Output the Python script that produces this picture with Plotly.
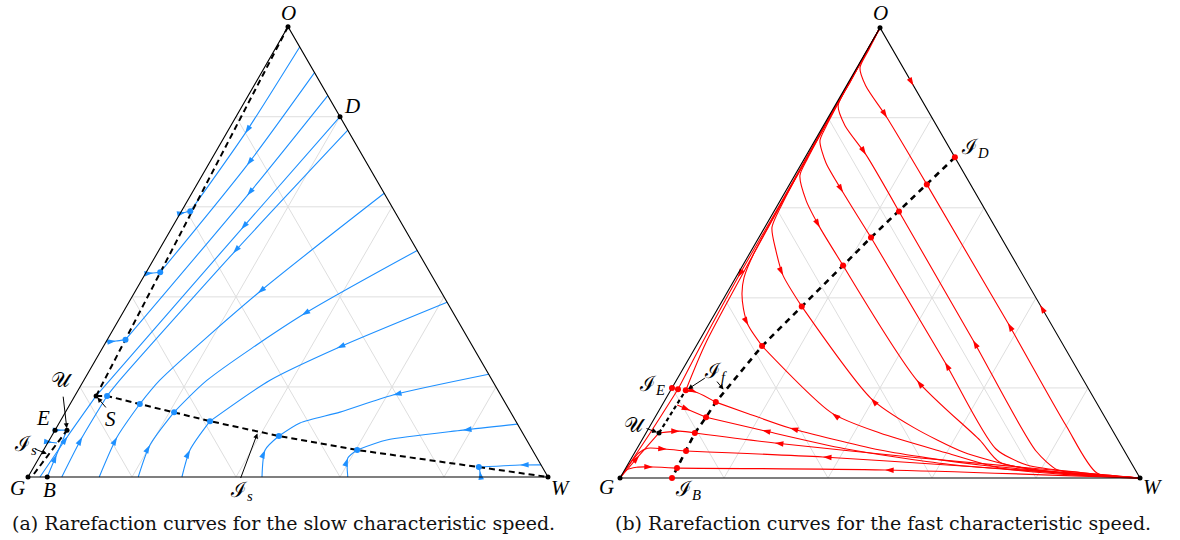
import numpy as np
import plotly.graph_objects as go

H = np.sqrt(3) / 2

# ---------------- data: saturations (sw, so); gas = 1 - sw - so ----------------
# (a) slow family: each branch runs from its start towards the inflection point
slow_branches = [
    [(0.045, 0.955), (0.036, 0.763), (0.017, 0.590)],
    [(0.0, 0.585), (0.009, 0.588), (0.017, 0.590)],
    [(0.102, 0.898), (0.075, 0.692), (0.027, 0.4545)],
    [(0.0, 0.452), (0.014, 0.453), (0.027, 0.4545)],
    [(0.153, 0.847), (0.109, 0.625), (0.035, 0.305)],
    [(0.0, 0.300), (0.018, 0.302), (0.035, 0.305)],
    [(0.2, 0.8), (0.135, 0.55), (0.05, 0.215), (0.041, 0.18)],
    [(0.023, 0.0), (0.031, 0.09), (0.041, 0.18)],
    [(0.23, 0.77), (0.146, 0.4967), (0.069, 0.215), (0.062, 0.18)],
    [(0.065, 0.0), (0.060, 0.0887), (0.062, 0.18)],
    [(0.37, 0.63), (0.238, 0.408), (0.146, 0.215), (0.134, 0.162)],
    [(0.137, 0.0), (0.127, 0.0887), (0.134, 0.162)],
    [(0.497, 0.503), (0.347, 0.359), (0.237, 0.215), (0.209, 0.144)],
    [(0.212, 0.0), (0.199, 0.071), (0.209, 0.144)],
    [(0.612, 0.388), (0.451, 0.286), (0.358, 0.215), (0.288, 0.124)],
    [(0.296, 0.0), (0.2815, 0.06), (0.288, 0.124)],
    [(0.772, 0.228), (0.611, 0.182), (0.528, 0.144), (0.463, 0.12), (0.437, 0.091)],
    [(0.45, 0.0), (0.426, 0.06), (0.437, 0.091)],
    [(0.8825, 0.1175), (0.7845, 0.104), (0.649, 0.082), (0.603, 0.06)],
    [(0.615, 0.0), (0.594, 0.042), (0.603, 0.06)],
    [(0.973, 0.027), (0.933, 0.0266), (0.856, 0.022)],
    [(0.87, 0.0), (0.8625, 0.013), (0.856, 0.022)],
    [(0.0, 0.104), (0.012, 0.104), (0.023, 0.104)],
    [(0.0, 0.0776), (0.009, 0.0765), (0.018, 0.0754)],
    [(0.037, 0.0), (0.030, 0.05), (0.023, 0.104)],
]
slow_arrow_at = [1] * len(slow_branches)
slow_dots = [(0.017, 0.590), (0.027, 0.4545), (0.035, 0.305), (0.062, 0.18), (0.134, 0.162),
             (0.209, 0.144), (0.288, 0.124), (0.437, 0.091), (0.603, 0.06), (0.856, 0.022)]
slow_locus_lower = [(0.041, 0.18), (0.062, 0.18), (0.134, 0.162), (0.209, 0.144), (0.288, 0.124),
                    (0.437, 0.091), (0.603, 0.06), (0.856, 0.022), (1.0, 0.0)]
slow_locus_upper = [(0.041, 0.18), (0.0, 1.0)]
slow_locus_corner = [(0.008, 0.0067), (0.023, 0.104)]
slow_points = {"O": (0.0, 1.0), "D": (0.2, 0.8), "W": (1.0, 0.0), "G": (0.0, 0.0),
               "B": (0.037, 0.0), "E": (0.0, 0.104), "S": (0.041, 0.18), "U": (0.023, 0.104)}

# (b) fast family
fast_branches = [
    [(0.0, 1.0), (0.003, 0.95), (0.006, 0.911), (0.037, 0.871), (0.1135, 0.80), (0.264, 0.652)],
    [(1.0, 0.0), (0.9117, 0.011), (0.80, 0.116), (0.574, 0.344), (0.264, 0.652)],
    [(0.0, 1.0), (0.003, 0.88), (0.006, 0.827), (0.041, 0.783), (0.114, 0.718), (0.2405, 0.592)],
    [(1.0, 0.0), (0.9, 0.008), (0.833, 0.0177), (0.77, 0.06), (0.526, 0.306), (0.2405, 0.592)],
    [(0.0, 1.0), (0.003, 0.85), (0.006, 0.78), (0.01, 0.749), (0.046, 0.70), (0.112, 0.634), (0.2157, 0.534)],
    [(1.0, 0.0), (0.88, 0.012), (0.768, 0.029), (0.69, 0.065), (0.4964, 0.257), (0.2157, 0.534)],
    [(0.0, 1.0), (0.003, 0.8), (0.006, 0.71), (0.01, 0.672), (0.05, 0.616), (0.106, 0.5565), (0.193, 0.472)],
    [(1.0, 0.0), (0.86, 0.01), (0.713, 0.035), (0.65, 0.084), (0.4626, 0.217), (0.193, 0.472)],
    [(0.0, 1.0), (0.003, 0.75), (0.007, 0.62), (0.014, 0.5565), (0.047, 0.5055), (0.0885, 0.45), (0.159, 0.381)],
    [(1.0, 0.0), (0.87, 0.008), (0.743, 0.0266), (0.631, 0.0577), (0.507, 0.113), (0.394, 0.177), (0.159, 0.381)],
    [(0.0, 1.0), (0.004, 0.7), (0.008, 0.5), (0.016, 0.445), (0.0296, 0.41), (0.05, 0.375), (0.077, 0.339), (0.1267, 0.293)],
    [(1.0, 0.0), (0.85, 0.008), (0.72, 0.022), (0.601, 0.0554), (0.45, 0.0998), (0.3356, 0.144), (0.1267, 0.293)],
    [(0.029, 0.195), (0.053, 0.19), (0.1, 0.1685)],
    [(1.0, 0.0), (0.678, 0.0288), (0.469, 0.062), (0.271, 0.111), (0.172, 0.144), (0.1, 0.1685)],
    [(0.029, 0.162), (0.06, 0.15), (0.098, 0.135)],
    [(1.0, 0.0), (0.62, 0.03), (0.4, 0.065), (0.22, 0.106), (0.098, 0.135)],
    [(0.025, 0.1), (0.063, 0.104), (0.094, 0.0998)],
    [(1.0, 0.0), (0.55, 0.045), (0.259, 0.0776), (0.094, 0.0998)],
    [(0.0, 0.0), (0.008, 0.055), (0.02, 0.066), (0.058, 0.064), (0.097, 0.06)],
    [(1.0, 0.0), (0.6, 0.03), (0.367, 0.0466), (0.097, 0.06)],
    [(0.0, 0.0), (0.004, 0.018), (0.02, 0.024), (0.051, 0.0244), (0.0986, 0.022)],
    [(1.0, 0.0), (0.501, 0.0177), (0.0986, 0.022)],
    [(0.0, 1.0), (0.004, 0.6), (0.004, 0.4457), (0.008, 0.3), (0.013, 0.197)],
    [(0.0, 1.0), (0.006, 0.6), (0.015, 0.3), (0.029, 0.195)],
    [(0.0, 0.0), (0.012, 0.05), (0.025, 0.1)],
    [(0.0, 0.0), (0.008, 0.1), (0.013, 0.197)],
]
fast_arrow_at = [4, 3, 4, 4, 5, 4, 5, 4, 5, 5, 6, 5,
                 1, 3, 1, 3, 1, 2, 3, 2, 3, 1, 2, None, 1, None]
# arrows drawn on the (black) right edge O-W, pointing to I_D
fast_edge_arrows = [[(0.0, 1.0), (0.129, 0.871), (0.288, 0.712)],
                    [(1.0, 0.0), (0.616, 0.384), (0.288, 0.712)]]
fast_dots = [(0.288, 0.712), (0.264, 0.652), (0.2405, 0.592), (0.2157, 0.534), (0.193, 0.472),
             (0.159, 0.381), (0.1267, 0.293), (0.1, 0.1685), (0.098, 0.135), (0.094, 0.0998),
             (0.097, 0.06), (0.0986, 0.022), (0.1, 0.0), (0.0, 0.2), (0.013, 0.197), (0.029, 0.195)]
fast_locus = [(0.288, 0.712), (0.264, 0.652), (0.2405, 0.592), (0.2157, 0.534), (0.193, 0.472),
              (0.159, 0.381), (0.1267, 0.293), (0.1, 0.1685), (0.098, 0.135), (0.094, 0.0998),
              (0.097, 0.06), (0.0986, 0.022), (0.1, 0.0)]
fast_f_locus = [(0.025, 0.1), (0.029, 0.195)]
fast_points = {"O": (0.0, 1.0), "W": (1.0, 0.0), "G": (0.0, 0.0), "U": (0.025, 0.1)}

grid_levels = [0.2, 0.4, 0.6, 0.8]

BLUE = "#1e90ff"
RED = "#ff0000"
GRID = "#dedede"
SERIF = "Liberation Serif, DejaVu Serif, serif"

# page geometry (body margin removed by post_script below)
OFF = 0
FW, FH = 1180 - 2 * OFF, 540 - 2 * OFF
K = 520.0


def to_xy(pts):
    a = np.asarray(pts, float)
    return a[:, 0] + a[:, 1] / 2, a[:, 1] * H


fig = go.Figure()


def add_grid(xa, ya):
    gx, gy = [], []
    for k in grid_levels:
        for seg in ([(0, k), (1 - k, k)], [(k, 0), (k, 1 - k)], [(1 - k, 0), (0, 1 - k)]):
            x, y = to_xy(seg)
            gx += list(x) + [None]
            gy += list(y) + [None]
    fig.add_trace(go.Scatter(x=gx, y=gy, mode="lines", line=dict(color=GRID, width=1),
                             xaxis=xa, yaxis=ya, hoverinfo="skip", showlegend=False))


def add_outline(xa, ya):
    x, y = to_xy([(0, 0), (1, 0), (0, 1), (0, 0)])
    fig.add_trace(go.Scatter(x=x, y=y, mode="lines", line=dict(color="black", width=1.1),
                             xaxis=xa, yaxis=ya, hoverinfo="skip", showlegend=False))


def add_branches(branches, arrows, color, xa, ya, draw=True):
    ax_, ay_, ang = [], [], []
    for pts, i in zip(branches, arrows):
        x, y = to_xy(pts)
        if draw:
            fig.add_trace(go.Scatter(x=x, y=y, mode="lines",
                                     line=dict(color=color, width=1.1, shape="spline", smoothing=0.7),
                                     xaxis=xa, yaxis=ya, hoverinfo="skip", showlegend=False))
        if i is None:
            continue
        dx = x[i + 1] - x[i - 1]
        dy = y[i + 1] - y[i - 1]
        ax_.append(x[i]); ay_.append(y[i]); ang.append(float(np.degrees(np.arctan2(dx, dy))))
    fig.add_trace(go.Scatter(x=ax_, y=ay_, mode="markers",
                             marker=dict(symbol="arrow", size=9, color=color, angle=ang, line=dict(width=0)),
                             xaxis=xa, yaxis=ya, hoverinfo="skip", showlegend=False))


def add_dashed(pts, xa, ya, width=2.0, dash="6px,4px"):
    x, y = to_xy(pts)
    fig.add_trace(go.Scatter(x=x, y=y, mode="lines", line=dict(color="black", width=width, dash=dash),
                             xaxis=xa, yaxis=ya, hoverinfo="skip", showlegend=False))


def add_dots(pts, color, size, xa, ya):
    x, y = to_xy(pts)
    fig.add_trace(go.Scatter(x=x, y=y, mode="markers", marker=dict(color=color, size=size),
                             xaxis=xa, yaxis=ya, hoverinfo="skip", showlegend=False))


# ---- panel (a)
add_grid("x", "y")
add_branches(slow_branches, slow_arrow_at, BLUE, "x", "y")
add_outline("x", "y")
add_dashed(slow_locus_lower, "x", "y")
add_dashed(slow_locus_upper, "x", "y")
add_dashed(slow_locus_corner, "x", "y")
add_dots(slow_dots, BLUE, 6, "x", "y")
add_dots(list(slow_points.values()), "black", 5, "x", "y")

# ---- panel (b)
add_grid("x2", "y2")
add_branches(fast_branches, fast_arrow_at, RED, "x2", "y2")
add_outline("x2", "y2")
add_branches(fast_edge_arrows, [1, 1], RED, "x2", "y2", draw=False)
add_dashed(fast_locus, "x2", "y2", width=2.6, dash="6px,5px")
add_dashed(fast_f_locus, "x2", "y2", width=2.2, dash="4px,3px")
add_dots(fast_dots, RED, 6, "x2", "y2")
add_dots(list(fast_points.values()), "black", 5, "x2", "y2")

ann = []


def label(text, pt, xs, ys, xref, yref, size=21):
    x, y = to_xy([pt])
    ann.append(dict(x=x[0], y=y[0], xref=xref, yref=yref, text=text, showarrow=False,
                    xanchor="center", yanchor="middle",
                    xshift=xs, yshift=ys, font=dict(family=SERIF, size=size, color="black")))


def pointer(pt, ax, ay, xref, yref):
    x, y = to_xy([pt])
    ann.append(dict(x=x[0], y=y[0], xref=xref, yref=yref, text="", showarrow=True, ax=ax, ay=ay,
                    arrowhead=2, arrowsize=1, arrowwidth=1, arrowcolor="black", standoff=2))


# labels (a)
label("<i>O</i>", slow_points["O"], 0, 14, "x", "y")
label("<i>D</i>", slow_points["D"], 12, 11, "x", "y")
label("<i>W</i>", slow_points["W"], 13, -11, "x", "y")
label("<i>G</i>", slow_points["G"], -11, -11, "x", "y")
label("<i>B</i>", slow_points["B"], 2, -13, "x", "y")
label("<i>E</i>", slow_points["E"], -12, 12, "x", "y")
label("<i>S</i>", slow_points["S"], 14, -23, "x", "y")
label("𝒰", slow_points["U"], -5, 50, "x", "y")
label("ℐ<sub><i>s</i></sub>", (0.0, 0.07), -21, 0, "x", "y")
label("ℐ<sub><i>s</i></sub>", (0.41, 0.0), 0, -14, "x", "y")
pointer(slow_points["S"], 11, 13, "x", "y")
pointer(slow_points["U"], -4, -35, "x", "y")
pointer((0.0147, 0.05), -15, -6, "x", "y")
pointer((0.392, 0.101), -18, 48, "x", "y")

# labels (b)
label("<i>O</i>", fast_points["O"], 0, 15, "x2", "y2")
label("<i>W</i>", fast_points["W"], 13, -9, "x2", "y2")
label("<i>G</i>", fast_points["G"], -14, -9, "x2", "y2")
label("ℐ<sub><i>D</i></sub>", (0.288, 0.712), 20, 9, "x2", "y2")
label("ℐ<sub><i>B</i></sub>", (0.1, 0.0), 16, -12, "x2", "y2")
label("ℐ<sub><i>E</i></sub>", (0.0, 0.2), -20, 3, "x2", "y2")
label("𝒰", fast_points["U"], -24, 8, "x2", "y2")
label("ℐ<sub><i>f</i></sub>", (0.029, 0.195), 30, 18, "x2", "y2")
pointer(fast_points["U"], -14, -5, "x2", "y2")
pointer((0.03, 0.195), 20, -13, "x2", "y2")
pointer((0.105, 0.193), -9, -11, "x2", "y2")

# captions (page pixel centres converted to paper fractions)
captions = ["(a) Rarefaction curves for the slow characteristic speed.",
            "(b) Rarefaction curves for the fast characteristic speed."]
for text, cx in zip(captions, [283, 883]):
    ann.append(dict(x=(cx - OFF) / FW, y=(FH - (523 - OFF)) / FH, xref="paper", yref="paper",
                    showarrow=False, xanchor="center", yanchor="middle", text=text,
                    font=dict(family="DejaVu Serif", size=19, color="#111")))


def dom_x(gx, lo=-0.03, hi=1.05):
    return [(gx - OFF + lo * K) / FW, (gx - OFF + hi * K) / FW]


def dom_y(gy, lo=-0.09, hi=0.90):
    return [(FH - (gy - OFF - lo * K)) / FH, (FH - (gy - OFF - hi * K)) / FH]


axis_common = dict(visible=False, showgrid=False, zeroline=False, fixedrange=True)
fig.update_layout(
    width=FW, height=FH, margin=dict(l=0, r=0, t=0, b=0),
    paper_bgcolor="white", plot_bgcolor="white",
    xaxis=dict(domain=dom_x(28), range=[-0.03, 1.05], **axis_common),
    yaxis=dict(domain=dom_y(477), range=[-0.09, 0.90], **axis_common),
    xaxis2=dict(domain=dom_x(620), range=[-0.03, 1.05], **axis_common),
    yaxis2=dict(domain=dom_y(478), range=[-0.09, 0.90], **axis_common),
    annotations=ann, showlegend=False,
)
fig.write_html("out.html", config={"displayModeBar": False},
               post_script="document.body.style.margin='0';document.body.style.overflow='hidden';")
